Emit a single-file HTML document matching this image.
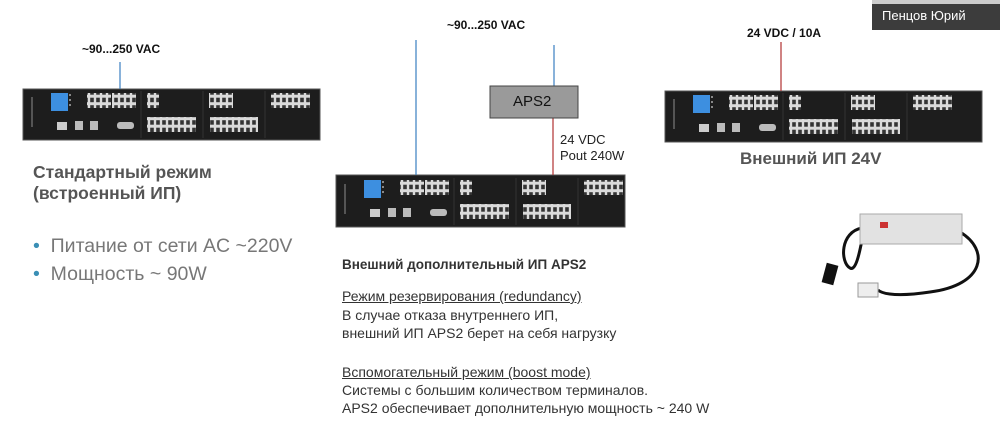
<!DOCTYPE html>
<html><head><meta charset="utf-8"><style>
body{margin:0;width:1000px;height:433px;background:#fff;position:relative;overflow:hidden;font-family:"Liberation Sans",Arial,sans-serif}
.a{position:absolute;white-space:nowrap}
.mid{font-size:14px;color:#333;left:342px}
</style></head><body>
<svg width="1000" height="433" style="position:absolute;left:0;top:0">
<defs>
<pattern id="pp" width="6" height="7.5" patternUnits="userSpaceOnUse"><rect width="6" height="7.5" fill="#dadada"/><rect x="1.2" y="1.2" width="3.6" height="4.5" fill="#333"/></pattern>
<g id="ports">
<rect x="28" y="4" width="17" height="18" fill="#3d8fe0"/>
<rect x="46" y="5" width="2" height="2" fill="#888"/><rect x="46" y="10" width="2" height="2" fill="#888"/><rect x="46" y="15" width="2" height="2" fill="#888"/>
<rect x="64" y="4" width="24" height="15" fill="url(#pp)"/>
<rect x="89" y="4" width="24" height="15" fill="url(#pp)"/>
<rect x="124" y="4" width="12" height="15" fill="url(#pp)"/>
<rect x="186" y="4" width="24" height="15" fill="url(#pp)"/>
<rect x="248" y="4" width="39" height="15" fill="url(#pp)"/>
<rect x="124" y="28" width="49" height="15" fill="url(#pp)"/>
<rect x="187" y="28" width="48" height="15" fill="url(#pp)"/>
<rect x="34" y="33" width="10" height="8" fill="#ccc"/>
<rect x="52" y="32" width="8" height="9" fill="#bbb"/>
<rect x="67" y="32" width="8" height="9" fill="#bbb"/>
<rect x="94" y="33" width="17" height="7" rx="3" fill="#bbb"/>
<rect x="8" y="8" width="2" height="30" fill="#555"/>
<line x1="118" y1="2" x2="118" y2="49" stroke="#333"/>
<line x1="180" y1="2" x2="180" y2="49" stroke="#333"/>
<line x1="242" y1="2" x2="242" y2="49" stroke="#333"/>
</g>
</defs>
<rect x="23" y="89" width="297" height="51" fill="#1d1d1d" stroke="#555"/>
<use href="#ports" x="23" y="89"/>
<rect x="336" y="175" width="289" height="52" fill="#1d1d1d" stroke="#555"/>
<use href="#ports" x="336" y="176"/>
<rect x="665" y="91" width="317" height="51" fill="#1d1d1d" stroke="#555"/>
<use href="#ports" x="665" y="91"/>
<line x1="120" y1="62" x2="120" y2="89" stroke="#3a7fc0" stroke-width="1.2"/>
<line x1="416" y1="40" x2="416" y2="175" stroke="#3a7fc0" stroke-width="1.2"/>
<line x1="554" y1="45" x2="554" y2="86" stroke="#3a7fc0" stroke-width="1.2"/>
<line x1="553" y1="118" x2="553" y2="175" stroke="#b03030" stroke-width="1.2"/>
<line x1="781" y1="42" x2="781" y2="91" stroke="#b03030" stroke-width="1.2"/>
<rect x="490" y="86" width="88" height="32" fill="#9a9a9a" stroke="#444"/>
<path d="M862 228 C840 232 840 262 850 268 C856 272 860 250 862 240" stroke="#111" stroke-width="3" fill="none"/>
<path d="M960 232 C990 250 985 285 930 292 C890 298 880 292 878 290" stroke="#111" stroke-width="3" fill="none"/>
<rect x="824" y="264" width="12" height="20" fill="#111" transform="rotate(15 830 274)"/>
<rect x="858" y="283" width="20" height="14" fill="#eee" stroke="#999"/>
<rect x="860" y="214" width="102" height="30" fill="#e2e2e2" stroke="#aaa"/>
<rect x="880" y="222" width="8" height="6" fill="#c33"/>
</svg>
<div class="a" style="left:872px;top:0;width:128px;height:30px;background:#3c3c3c;border-top:4px solid #ccc;box-sizing:border-box"></div>
<div class="a" style="left:882px;top:8px;font-size:13px;color:#fff">Пенцов Юрий</div>
<div class="a" style="left:82px;top:42px;font-size:12px;font-weight:bold;color:#111">~90...250 VAC</div>
<div class="a" style="left:447px;top:18px;font-size:12px;font-weight:bold;color:#111">~90...250 VAC</div>
<div class="a" style="left:747px;top:26px;font-size:12px;font-weight:bold;color:#111">24 VDC / 10A</div>
<div class="a" style="left:513px;top:93px;font-size:15px;color:#111">APS2</div>
<div class="a" style="left:560px;top:132px;font-size:13px;color:#222;line-height:16px">24 VDC<br>Pout 240W</div>
<div class="a" style="left:740px;top:149px;font-size:17px;font-weight:bold;color:#555">Внешний ИП 24V</div>
<div class="a" style="left:33px;top:162px;font-size:17.5px;font-weight:bold;color:#555;line-height:21px">Стандартный режим<br>(встроенный ИП)</div>
<div class="a" style="left:33px;top:232px;font-size:19.5px;color:#777;line-height:28px"><span style="color:#3a8fb5">•</span>&nbsp;&nbsp;Питание от сети AC ~220V<br><span style="color:#3a8fb5">•</span>&nbsp;&nbsp;Мощность ~ 90W</div>
<div class="a mid" style="top:257px;font-weight:bold;font-size:13.5px">Внешний дополнительный ИП APS2</div>
<div class="a mid" style="top:288px;text-decoration:underline">Режим резервирования (redundancy)</div>
<div class="a mid" style="top:307px">В случае отказа внутреннего ИП,</div>
<div class="a mid" style="top:325px">внешний ИП APS2 берет на себя нагрузку</div>
<div class="a mid" style="top:364px;text-decoration:underline">Вспомогательный режим (boost mode)</div>
<div class="a mid" style="top:382px">Системы с большим количеством терминалов.</div>
<div class="a mid" style="top:400px">APS2 обеспечивает дополнительную мощность ~ 240 W</div>
</body></html>
